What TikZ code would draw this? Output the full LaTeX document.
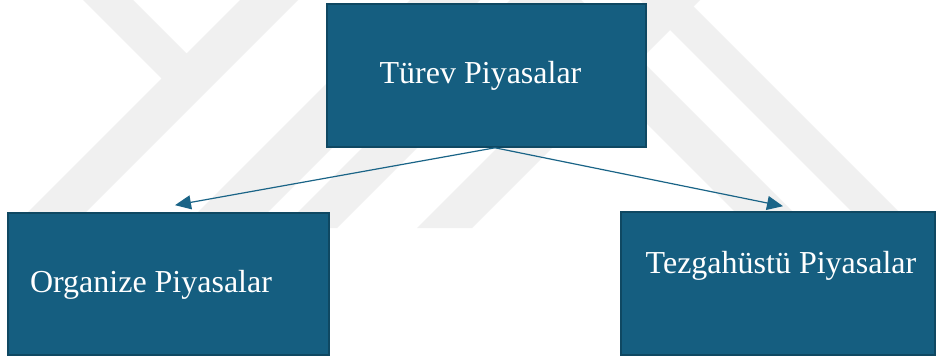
\documentclass[tikz,border=0pt]{standalone}
\usepackage{fontspec}
\setmainfont{Liberation Serif}
\usetikzlibrary{arrows.meta,positioning}
\definecolor{boxfill}{HTML}{155E80}
\definecolor{boxline}{HTML}{0F4862}
\definecolor{arrowc}{HTML}{1A6487}
\definecolor{wmgray}{HTML}{F0F0F0}

\begin{document}
\begin{tikzpicture}[x=1pt, y=-1pt, font=\fontsize{32}{38}\selectfont,
  box/.style={draw=boxline, line width=1.6pt, fill=boxfill, inner sep=0pt},
  txt/.style={text=white, inner sep=0pt},
  link/.style={->, draw=arrowc, line width=1.2pt},
  >={Triangle[length=16pt, width=14pt]}]
\useasboundingbox (0,0) rectangle (936,358);
\fill[white] (0,0) rectangle (936,358);
% faint watermark behind the boxes
\begin{scope}
\clip (0,0) rectangle (936,228);
\fill[wmgray] (83,0) -- (133,0) -- (186.5,53.5) -- (240,0) -- (298,0) -- (70,228) -- (12,228) -- (161.5,78.5) -- cycle;
\foreach \a/\b in {410/480, 510/565, 645/700}
  \fill[wmgray] (\a,0) -- (\b,0) -- (\b-228,228) -- (\a-228,228) -- cycle;
\foreach \a/\b in {523/581, 640/687}
  \fill[wmgray] (\a,0) -- (\b,0) -- (\b+228,228) -- (\a+228,228) -- cycle;
\end{scope}
% boxes
\node[box, minimum width=319pt, minimum height=143pt] (turev) at (486.5,75.5) {};
\node[txt] (turevtxt) at ([xshift=-6pt]turev.center) {Türev Piyasalar};
\node[box, minimum width=321pt, minimum height=142pt] (organize) at (168.5,284) {};
\node[txt] (organizetxt) at ([xshift=-17.5pt, yshift=-1pt]organize.center) {Organize Piyasalar};
\node[box, minimum width=314pt, minimum height=143pt] (tezgah) at (778,283.5) {};
\node[txt] (tezgahtxt) at ([xshift=3pt, yshift=18pt]tezgah.center) {Tezgahüstü Piyasalar};
% arrows
\coordinate (orgtip) at ([xshift=6.5pt, yshift=7pt]organize.north);
\coordinate (tezgahtip) at ([xshift=5pt, yshift=5pt]tezgah.north);
\draw[link] ([xshift=8.5pt]turev.south) -- (orgtip);
\draw[link] ([xshift=8.5pt]turev.south) -- (tezgahtip);
\end{tikzpicture}
\end{document}
